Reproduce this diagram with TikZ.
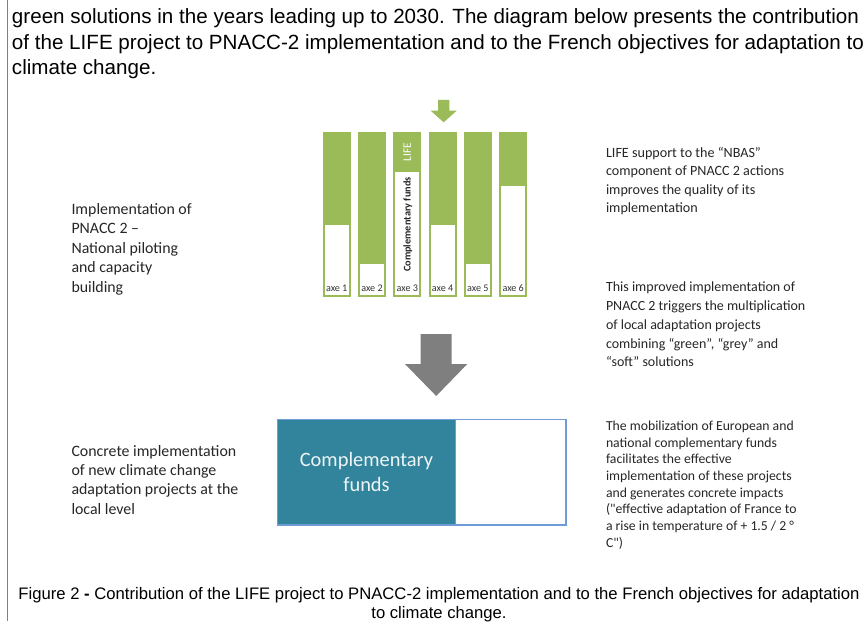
\documentclass[tikz,border=0pt]{standalone}
\usepackage{fontspec}
\setmainfont{Liberation Sans}
\newfontfamily\calibri{Carlito}
\usetikzlibrary{positioning}

\definecolor{lifegreen}{HTML}{9BBB59}
\definecolor{fundteal}{HTML}{31849B}
\definecolor{boxblue}{HTML}{6F9BD6}
\definecolor{arrowgrey}{HTML}{7F7F7F}

\begin{document}
\begin{tikzpicture}[
  x=0.75pt,y=-0.75pt,
  every node/.style={inner sep=0pt,outer sep=0pt},
  bodytxt/.style={font=\fontsize{15.45}{19.1}\selectfont,align=left,anchor=north west},
  captxt/.style={font=\fontsize{12.5}{14.3}\selectfont,align=center},
  note/.style={font=\calibri\fontsize{11.9}{14.6}\selectfont,align=left,anchor=north west,text=black!85},
  notesm/.style={note,font=\calibri\fontsize{10.3}{12.5}\selectfont},
  bar/.style={rectangle,fill=lifegreen,minimum width=21pt,minimum height=123.75pt,anchor=south},
  blank/.style={rectangle,fill=white,minimum width=18pt,anchor=south},
  axelbl/.style={font=\calibri\fontsize{7.6}{8}\selectfont,text=black!80},
  fundbox/.style={rectangle,draw=boxblue,line width=1.1pt,minimum height=79.3pt}
]

\useasboundingbox (0,0) rectangle (868,624);

% ===================== page text =====================
\draw[gray,line width=0.8pt] (7.5,0) -- (7.5,621);
\node[bodytxt] (intro) at (12,9) {green solutions in the years leading up to 2030. The diagram below presents the contribution\\
of the LIFE project to PNACC-2 implementation and to the French objectives for adaptation to\\
climate change.};

% ===================== PNACC 2 axes =====================
\foreach \i/\wtop in {1/225,2/264,3/172.3,4/225,5/264,6/186}{
  \pgfmathsetmacro\bx{322.7+35.3*(\i-1)+14}
  \pgfmathsetmacro\wh{(294.7-\wtop)*0.75}
  \node[bar] (axe\i) at (\bx,296.7) {};
  \node[blank,minimum height=\wh pt] (free\i) at (\bx,294.7) {};
  \node[axelbl] (lbl\i) at (\bx,288) {axe \i};
}
% axe 3: LIFE part and complementary funds
\node[rotate=90,text=white,font=\calibri\fontsize{8.5}{9}\selectfont] (life) at (407.3,152) {LIFE};
\node[rotate=90,text=black!85,font=\calibri\bfseries\fontsize{7.7}{8}\selectfont] (compl) at (407.8,224.5) {Complementary funds};

% green arrow onto axe 4
\fill[lifegreen] (438,100) -- (449.3,100) -- (449.3,110.7) -- (456.7,110.7) -- (443.7,122.3)
  -- (430.7,110.7) -- (438,110.7) -- cycle;

% grey arrow down to local projects
\fill[arrowgrey] (420.7,334) -- (451.7,334) -- (451.7,364) -- (467.3,364) -- (436.2,396)
  -- (405,364) -- (420.7,364) -- cycle;

% ===================== local projects =====================
\node[fundbox,fill=fundteal,minimum width=133.8pt,anchor=north west,text=white!92!fundteal,
      align=center,font=\calibri\fontsize{15.3}{18.7}\selectfont] (funds) at (277.3,419.3) {Complementary\\funds};
\node[fundbox,fill=white,minimum width=82.7pt,anchor=north west] (rest) at (funds.north east) {};

% ===================== side texts =====================
\node[note] (impl) at (71.5,203.5) {Implementation of\\PNACC 2 –\\National piloting\\and capacity\\building};
\node[note] (local) at (71.5,445) {Concrete implementation\\of new climate change\\adaptation projects at the\\local level};
\node[note,font=\calibri\fontsize{10.6}{13.9}\selectfont] (nbas) at (606,147) {LIFE support to the “NBAS”\\component of PNACC 2 actions\\improves the quality of its\\implementation};
\node[note,font=\calibri\fontsize{10.5}{14.1}\selectfont] (multi) at (606,282) {This improved implementation of\\PNACC 2 triggers the multiplication\\of local adaptation projects\\combining “green”, “grey” and\\“soft” solutions};
\node[notesm] (mobil) at (606,421) {The mobilization of European and\\national complementary funds\\facilitates the effective\\implementation of these projects\\and generates concrete impacts\\("effective adaptation of France to\\a rise in temperature of + 1.5 / 2 °\\C")};

% ===================== caption =====================
\node[captxt] (cap) at (439,604.5) {Figure 2 \textbf{-} Contribution of the LIFE project to PNACC-2 implementation and to the French objectives for adaptation\\to climate change.};

\end{tikzpicture}
\end{document}
